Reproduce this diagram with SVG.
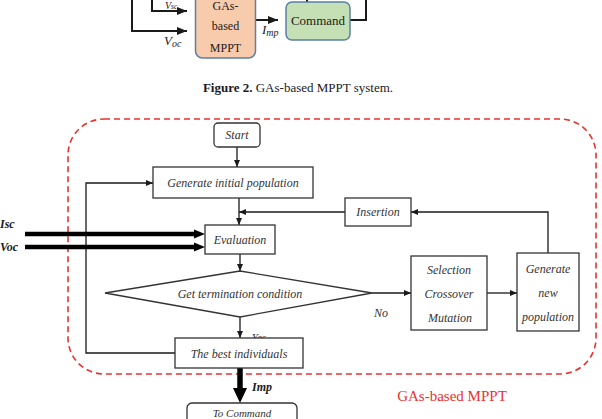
<svg xmlns="http://www.w3.org/2000/svg" width="602" height="419" viewBox="0 0 602 419">
<style>
  .box { fill: #ffffff; stroke: #333333; stroke-width: 1.3; }
  .ft { font-family: "Liberation Serif", serif; font-style: italic; font-size: 12px; fill: #333333; text-anchor: middle; }
  .tt { font-family: "Liberation Serif", serif; font-size: 12px; fill: #1a1a1a; text-anchor: middle; }
  .ln { fill: none; stroke: #1a1a1a; stroke-width: 1.3; }
  .tl { fill: none; stroke: #1a1a1a; stroke-width: 2; }
  .thick { fill: none; stroke: #000000; stroke-width: 4.5; }
  .lab { font-family: "Liberation Serif", serif; font-style: italic; font-weight: bold; font-size: 12px; fill: #1a1a1a; }
</style>
<defs>
  <marker id="ah" markerWidth="7" markerHeight="6" refX="7" refY="3" orient="auto" markerUnits="userSpaceOnUse">
    <path d="M0,0 L7,3 L0,6 Z" fill="#1a1a1a"/>
  </marker>
  <marker id="ahT" markerWidth="10" markerHeight="8" refX="10" refY="4" orient="auto" markerUnits="userSpaceOnUse">
    <path d="M0,0 L10,4 L0,8 Z" fill="#1a1a1a"/>
  </marker>
</defs>
<rect width="602" height="419" fill="#ffffff"/>

<!-- Top figure (cropped) -->
<g id="top-connectors">
  <path class="tl" d="M152,-2 V11 H187" marker-end="url(#ahT)"/>
  <path class="tl" d="M132,-2 V31 H187" marker-end="url(#ahT)"/>
  <path class="tl" d="M255,20 H278" marker-end="url(#ahT)"/>
  <path class="tl" d="M350,20 H366 V-2"/>
  <path class="tl" d="M307,-2 V2"/>
</g>
<g id="gas-mppt-top">
  <rect x="195.5" y="-20" width="60" height="78" rx="7" fill="#f8cbad" stroke="#5a7fa8" stroke-width="1.5"/>
  <text class="tt" x="225.5" y="10">GAs-</text>
  <text class="tt" x="225.5" y="30">based</text>
  <text class="tt" x="225.5" y="52">MPPT</text>
</g>
<g id="command-top">
  <rect x="286" y="2" width="64" height="38" rx="6" fill="#c5e0b4" stroke="#5a7fa8" stroke-width="1.5"/>
  <text class="tt" x="318" y="25" style="font-size:13px">Command</text>
</g>
<g id="top-labels">
  <text x="165" y="8.5" font-family="Liberation Serif, serif" font-style="italic" font-size="10" fill="#1a1a1a">V<tspan font-size="7.5" dy="0.5">sc</tspan></text>
  <text x="164" y="45" font-family="Liberation Serif, serif" font-style="italic" font-size="13" fill="#1a1a1a">V<tspan font-size="10" dy="2">oc</tspan></text>
  <text x="262" y="34" font-family="Liberation Serif, serif" font-style="italic" font-size="13" fill="#1a1a1a">I<tspan font-size="10" dy="2">mp</tspan></text>
</g>

<text id="caption" x="298" y="92" font-family="Liberation Serif, serif" font-size="13" fill="#1a1a1a" text-anchor="middle"><tspan font-weight="bold">Figure 2.</tspan> GAs-based MPPT system.</text>

<!-- Dashed region -->
<g id="region">
  <rect x="68" y="119" width="528" height="255" rx="36" fill="none" stroke="#e8322e" stroke-width="1.6" stroke-dasharray="6,4"/>
  <text x="452" y="401" font-family="Liberation Serif, serif" font-size="15" fill="#e8322e" text-anchor="middle">GAs-based MPPT</text>
</g>

<!-- Connectors -->
<g id="connectors">
  <path class="ln" d="M237,147 V167" marker-end="url(#ah)"/>
  <path class="ln" d="M239,198 V225" marker-end="url(#ah)"/>
  <path class="ln" d="M345,212 H239" marker-end="url(#ah)"/>
  <path class="ln" d="M548,253 V212 H411" marker-end="url(#ah)"/>
  <path class="ln" d="M240,254 V271" marker-end="url(#ah)"/>
  <path class="ln" d="M372,293 H411" marker-end="url(#ah)"/>
  <path class="ln" d="M487,293 H517" marker-end="url(#ah)"/>
  <path class="ln" d="M240,317 V338" marker-end="url(#ah)"/>
  <path class="ln" d="M175,353 H86 V183 H153" marker-end="url(#ah)"/>
  <line class="thick" x1="25" y1="234" x2="195" y2="234"/>
  <polygon points="194,229.5 205,234 194,238.5" fill="#000"/>
  <line class="thick" x1="25" y1="247" x2="195" y2="247"/>
  <polygon points="194,242.5 205,247 194,251.5" fill="#000"/>
  <line x1="240" y1="368" x2="240" y2="390" stroke="#000" stroke-width="5.5"/>
  <polygon points="233,388 247,388 240,403" fill="#000"/>
  <text class="ft" x="259" y="341" style="font-size:11px">Yes</text>
  <text class="ft" x="381" y="317">No</text>
  <text class="lab" x="252" y="391">Imp</text>
  <text class="lab" x="0" y="228">Isc</text>
  <text class="lab" x="0" y="251">Voc</text>
</g>

<!-- Nodes -->
<g id="start">
  <rect class="box" x="214" y="123" width="46" height="24" rx="4"/>
  <text class="ft" x="237" y="139">Start</text>
</g>
<g id="generate-initial">
  <rect class="box" x="153" y="167" width="160" height="31"/>
  <text class="ft" x="233" y="187">Generate initial population</text>
</g>
<g id="insertion">
  <rect class="box" x="345" y="198" width="66" height="28"/>
  <text class="ft" x="378" y="216">Insertion</text>
</g>
<g id="evaluation">
  <rect class="box" x="205" y="225" width="70" height="29"/>
  <text class="ft" x="240" y="244">Evaluation</text>
</g>
<g id="termination">
  <polygon class="box" points="105,293 240,271 372,293 240,317"/>
  <text class="ft" x="240" y="298">Get termination condition</text>
</g>
<g id="selection">
  <rect class="box" x="411" y="256" width="76" height="74"/>
  <text class="ft" x="449" y="274">Selection</text>
  <text class="ft" x="449" y="298">Crossover</text>
  <text class="ft" x="450" y="322">Mutation</text>
</g>
<g id="generate-new">
  <rect class="box" x="517" y="253" width="62" height="78"/>
  <text class="ft" x="548" y="273">Generate</text>
  <text class="ft" x="548" y="297">new</text>
  <text class="ft" x="548" y="321">population</text>
</g>
<g id="best">
  <rect class="box" x="175" y="338" width="128" height="30"/>
  <text class="ft" x="239" y="358">The best individuals</text>
</g>
<g id="to-command">
  <rect class="box" x="187" y="403" width="110" height="30" rx="5"/>
  <text class="ft" x="242" y="417" style="font-size:11px">To Command</text>
</g>
</svg>
